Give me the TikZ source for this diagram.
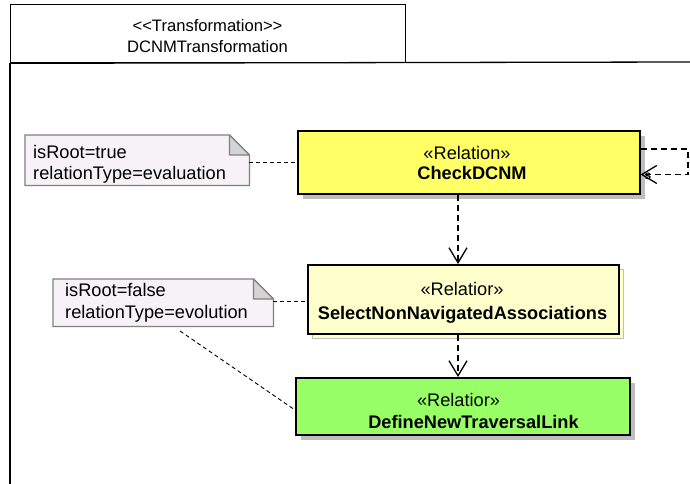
\documentclass[tikz,border=0pt]{standalone}
\usepackage{fontspec}
\setmainfont{Liberation Sans}[Ligatures=TeXOff]
\usetikzlibrary{arrows.meta,shadows,backgrounds}
\definecolor{relyellow}{HTML}{FFFF66}
\definecolor{paleyellow}{HTML}{FFFFCC}
\definecolor{relgreen}{HTML}{99FF66}
\definecolor{notefill}{HTML}{F6F2F6}
\definecolor{noteborder}{HTML}{808080}
\definecolor{foldfill}{HTML}{D4D4D4}
\definecolor{shadowgray}{HTML}{BEBEBE}
\tikzset{
  txt/.style={font=\fontsize{18.2}{22}\selectfont, inner sep=0pt, anchor=base},
  hdrtxt/.style={font=\fontsize{16.6}{20}\selectfont, inner sep=0pt, anchor=base},
  notetxt/.style={txt, anchor=base west},
  relbox/.style={draw=black, line width=1.5pt, anchor=north west, inner sep=0pt},
  grayshadow/.style={general shadow={fill=shadowgray, shadow xshift=5pt, shadow yshift=-5pt}},
  paleshadow/.style={general shadow={fill=paleyellow, draw=shadowgray, line width=1pt, shadow xshift=5pt, shadow yshift=-5pt}},
  notebox/.style={anchor=north west, inner sep=0pt},
  notepoly/.style={fill=notefill, draw=noteborder, line width=1.2pt},
  foldpoly/.style={fill=foldfill, draw=noteborder, line width=1.2pt, line join=round},
  notelink/.style={draw=black, line width=0.9pt, dash pattern=on 4pt off 3pt},
  dep/.style={draw=black, line width=1.4pt, dash pattern=on 6pt off 4pt, -{Straight Barb[length=15pt,width=18pt,line width=1.3pt]}},
  frameline/.style={draw=black, line width=1.3pt}
}
\begin{document}
\begin{tikzpicture}[x=1pt,y=-1pt]
\useasboundingbox (0,0) rectangle (690,484);
% frame
\node[frameline, draw, anchor=north west, minimum width=395pt, minimum height=58pt, inner sep=0pt] (hdr) at (10,4) {};
\node[hdrtxt] (hdr1) at (207.5,32) {<<Transformation>>};
\node[hdrtxt] (hdr2) at (207.5,53) {DCNMTransformation};
\coordinate (frameR) at (690,62);
\coordinate (frameB) at (10,484);
\draw[frameline] (hdr.south west) -- (frameR);
\draw[frameline] (hdr.south west) -- (frameB);
% relation boxes
\node[relbox, fill=relyellow, grayshadow, minimum width=342pt, minimum height=63pt] (check) at (297,130) {};
\node[txt] (check1) at (467,159.5) {«Relation»};
\node[txt, font=\fontsize{18.2}{22}\selectfont\bfseries] (check2) at (472,179.5) {CheckDCNM};
\node[relbox, fill=paleyellow, paleshadow, minimum width=311pt, minimum height=69pt] (select) at (307,264) {};
\node[txt] (select1) at (462,295.5) {«Relatior»};
\node[txt, font=\fontsize{18.2}{22}\selectfont\bfseries] (select2) at (462.5,319.5) {SelectNonNavigatedAssociations};
\node[relbox, fill=relgreen, grayshadow, minimum width=334pt, minimum height=57pt] (define) at (295,377) {};
\node[txt] (define1) at (458.5,406.5) {«Relatior»};
\node[txt, font=\fontsize{18.2}{22}\selectfont\bfseries] (define2) at (473.5,428.5) {DefineNewTraversalLink};
% notes
\node[notebox, minimum width=224pt, minimum height=50pt] (note1) at (25,135) {};
\node[notetxt] (note1a) at (33,158.5) {isRoot=true};
\node[notetxt] (note1b) at (33,179.5) {relationType=evaluation};
\node[notebox, minimum width=220pt, minimum height=47pt] (note2) at (53,279) {};
\node[notetxt] (note2a) at (65,296.5) {isRoot=false};
\node[notetxt] (note2b) at (65,318.5) {relationType=evolution};
\begin{scope}[on background layer]
  \fill[white] (0,0) rectangle (690,484);
  \path[notepoly] (note1.north west) -- ([xshift=-20pt]note1.north east) -- ([yshift=-20pt]note1.north east) -- (note1.south east) -- (note1.south west) -- cycle;
  \path[foldpoly] ([xshift=-20pt]note1.north east) -- ([xshift=-20pt,yshift=-20pt]note1.north east) -- ([yshift=-20pt]note1.north east) -- cycle;
  \path[notepoly] (note2.north west) -- ([xshift=-20pt]note2.north east) -- ([yshift=-20pt]note2.north east) -- (note2.south east) -- (note2.south west) -- cycle;
  \path[foldpoly] ([xshift=-20pt]note2.north east) -- ([xshift=-20pt,yshift=-20pt]note2.north east) -- ([yshift=-20pt]note2.north east) -- cycle;
\end{scope}
% note links
\coordinate (n1e) at ([yshift=-2pt]note1.east);
\coordinate (n2e) at ([yshift=1.5pt]note2.east);
\draw[notelink] (n1e) -- (check.west |- n1e);
\draw[notelink] (n2e) -- (select.west |- n2e);
\coordinate (n2b) at (180,331);
\coordinate (defl) at (295,410);
\draw[notelink] (n2b) -- (defl);
% dependencies
\coordinate (ax) at (458,0);
\draw[dep] (check.south -| ax) -- (select.north -| ax);
\draw[dep] (select.south -| ax) -- (define.north -| ax);
% self loop
\coordinate (loopA) at (688,149);
\draw[dep] ([yshift=-19pt]check.north east) -| (loopA) |- ([yshift=20pt]check.south east);
\node[font=\fontsize{12}{12}\selectfont\bfseries, inner sep=0pt] (slbl) at (648,176) {s};
\end{tikzpicture}
\end{document}
